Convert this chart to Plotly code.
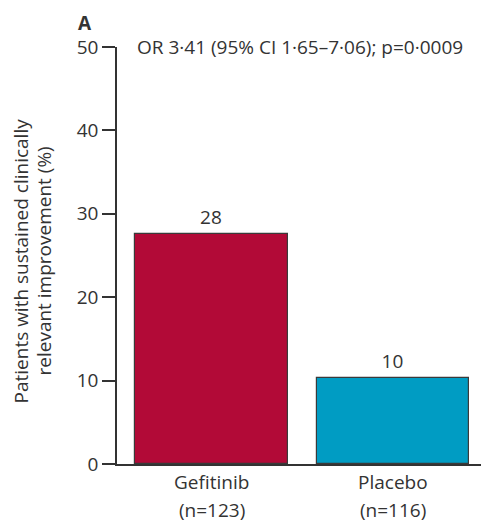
import plotly.graph_objects as go

# ─── Data ───────────────────────────────────────────────────────────────────────
group_names = ["Gefitinib", "Placebo"]
group_n = ["(n=123)", "(n=116)"]
percent = [27.6, 10.3]
bar_labels = ["28", "10"]
bar_colors = ["#b20a37", "#009cc3"]
y_ticks = [0, 10, 20, 30, 40, 50]
y_title_lines = ["Patients with sustained clinically", "relevant improvement (%)"]

FONT = "'Open Sans', Lato, sans-serif"
INK = "#333333"
FS = 19

fig = go.Figure()

fig.add_trace(
    go.Bar(
        x=[0, 1],
        y=percent,
        width=0.843,
        text=bar_labels,
        textposition="outside",
        cliponaxis=False,
        textfont=dict(family=FONT, size=FS, color=INK),
        marker=dict(color=bar_colors, line=dict(color="#3a3a3a", width=1.2)),
        showlegend=False,
        hoverinfo="skip",
    )
)

# category labels under the bars (two lines, spaced like the original)
for i, (name, n) in enumerate(zip(group_names, group_n)):
    fig.add_annotation(x=i, y=0, xref="x", yref="y", text=name, showarrow=False,
                       yanchor="middle", yshift=-18,
                       font=dict(family=FONT, size=FS, color=INK))
    fig.add_annotation(x=i, y=0, xref="x", yref="y", text=n, showarrow=False,
                       yanchor="middle", yshift=-46,
                       font=dict(family=FONT, size=FS, color=INK))

fig.add_annotation(
    text="OR 3·41 (95% CI 1·65–7·06); p=0·0009",
    xref="paper", yref="y", x=0, xshift=18, y=50,
    xanchor="left", yanchor="middle", showarrow=False,
    font=dict(family=FONT, size=FS, color=INK),
)
fig.add_annotation(
    text="<b>A</b>",
    xref="paper", yref="paper", x=0, xshift=-32, y=1.0, yshift=24,
    xanchor="center", yanchor="middle", showarrow=False,
    font=dict(family=FONT, size=19, color=INK),
)
# y-axis title, one rotated annotation per line
for line, dx in zip(y_title_lines, [-97, -74]):
    fig.add_annotation(
        text=line,
        xref="paper", yref="paper", x=0, xshift=dx, y=0.5, yshift=-6,
        xanchor="center", yanchor="middle", textangle=-90, showarrow=False,
        font=dict(family=FONT, size=FS, color=INK),
    )

fig.update_layout(
    width=481, height=516,
    margin=dict(l=109, r=4, t=39, b=60),
    paper_bgcolor="white", plot_bgcolor="white",
    font=dict(family=FONT, color=INK),
    bargap=0,
)
fig.update_xaxes(
    range=[-0.521, 1.507],
    showticklabels=False, ticks="",
    showline=True, linecolor=INK, linewidth=1.5,
    showgrid=False, zeroline=False,
    automargin=False,
)
fig.update_yaxes(
    range=[0, 50],
    tickvals=y_ticks,
    ticks="outside", ticklen=13, tickwidth=1.5, tickcolor=INK,
    tickfont=dict(family=FONT, size=FS, color=INK),
    showline=True, linecolor=INK, linewidth=1.5,
    showgrid=False, zeroline=False,
    automargin=False,
)

fig.write_html("out.html")
